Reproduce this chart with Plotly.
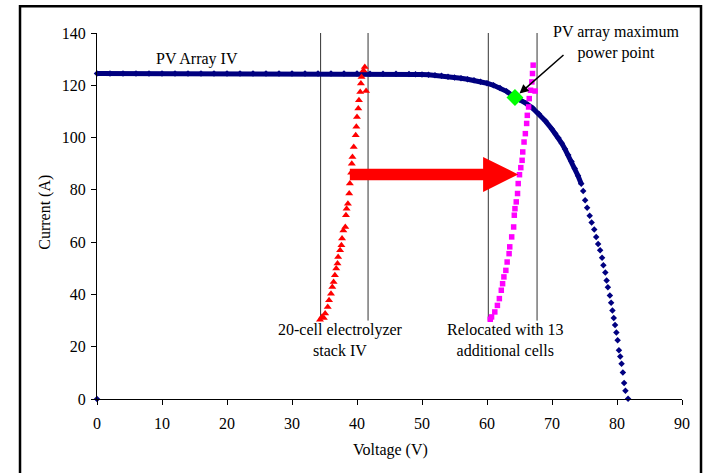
import plotly.graph_objects as go

# PV array IV sweep: voltage (V) and current (A)
pv_voltage = [0.0,
              0.0, 2.0, 4.0, 6.0, 8.0, 10.0, 12.0, 14.0, 16.0, 18.0, 20.0, 22.0,
              24.0, 26.0, 28.0, 30.0, 32.0, 34.0, 36.0, 38.0, 40.0, 42.0, 44.0,
              46.0, 48.0, 49.0, 50.0, 51.0, 52.0, 53.0, 54.0, 55.0, 56.0, 57.0,
              58.0, 59.0, 60.0, 61.0, 62.0, 63.0, 64.0, 65.0, 66.0, 67.0, 68.0,
              69.0, 70.0, 70.5, 71.0, 71.5, 72.0, 72.5, 73.0, 73.5, 74.0, 74.5,
              74.8, 75.1, 75.4, 75.8, 76.1, 76.5, 76.8, 77.1, 77.4, 77.7, 77.9,
              78.2, 78.4, 78.6, 78.9, 79.1, 79.3, 79.5, 79.7, 79.9, 80.1, 80.3,
              80.5, 80.7, 80.9, 81.1, 81.3, 81.7]
pv_current = [0.0,
              124.5, 124.5, 124.5, 124.5, 124.5, 124.5, 124.5, 124.5, 124.5,
              124.5, 124.5, 124.5, 124.5, 124.5, 124.5, 124.5, 124.5, 124.5,
              124.5, 124.5, 124.5, 124.4, 124.4, 124.4, 124.3, 124.2, 124.1,
              124.0, 123.8, 123.6, 123.3, 123.0, 122.7, 122.3, 121.9, 121.4,
              120.8, 120.0, 119.0, 117.7, 115.9, 114.6, 113.1, 111.3, 109.0,
              106.3, 103.2, 101.6, 99.8, 97.8, 95.6, 93.3, 90.8, 88.2, 85.4,
              82.3, 79.6, 76.0, 73.2, 70.1, 67.5, 64.8, 62.0, 59.3, 56.9, 54.0,
              51.2, 48.4, 45.3, 42.7, 39.6, 36.8, 33.9, 31.0, 28.3, 25.4, 22.5,
              18.6, 16.3, 13.5, 10.1, 6.1, 3.2, 0.1]

# 20-cell electrolyzer stack IV
stack20_voltage = [34.3, 34.6, 34.9, 35.1, 35.5, 35.7, 36.0, 36.2, 36.4, 36.6,
                   36.8, 37.0, 37.1, 37.4, 37.6, 37.7, 37.9, 38.2, 38.3, 38.4,
                   38.6, 38.8, 38.9, 39.1, 39.2, 39.3, 39.5, 39.8, 39.9, 40.0,
                   40.2, 40.3, 40.5, 41.4, 40.6, 40.7, 41.0, 41.2]
stack20_current = [30.3, 31.4, 31.0, 32.7, 35.2, 37.8, 40.3, 42.8, 44.8, 47.3,
                   49.9, 51.8, 54.3, 56.9, 58.8, 61.4, 64.5, 65.8, 70.3, 72.8,
                   74.7, 78.6, 82.4, 86.5, 90.0, 92.6, 96.4, 100.9, 104.1, 107.9,
                   111.1, 114.3, 117.4, 117.8, 120.7, 123.2, 125.7, 127.0]

# Same stack relocated with 13 additional cells
stack33_voltage = [60.5, 60.7, 61.2, 61.6, 61.9, 62.2, 62.4, 62.6, 62.9, 63.1,
                   63.4, 63.5, 63.8, 64.1, 64.2, 64.3, 64.5, 64.7, 64.8, 65.0,
                   65.2, 65.4, 65.5, 65.7, 65.9, 66.1, 66.2, 66.4, 66.5, 66.7,
                   67.4, 66.9, 67.0, 67.1]
stack33_current = [30.5, 31.4, 33.3, 35.8, 38.4, 41.6, 44.1, 46.7, 49.2, 52.4,
                   55.6, 58.2, 62.0, 65.8, 70.3, 72.8, 75.4, 78.6, 82.4, 85.8,
                   88.5, 91.3, 94.5, 98.3, 101.5, 105.4, 108.5, 111.7, 114.9, 118.1,
                   117.8, 121.3, 124.5, 127.7]

# PV array maximum power point
mpp_voltage = [64.3]
mpp_current = [115.3]

# Voltage bounds of each stack's operating window
window_voltage = [34.4, 41.7, 60.2, 67.7]
window_current = [30, 140]

x_ticks = [0, 10, 20, 30, 40, 50, 60, 70, 80, 90]
y_ticks = [0, 20, 40, 60, 80, 100, 120, 140]

NAVY = "#000080"
FONT = dict(family="Liberation Serif", size=16, color="black")

fig = go.Figure()

# window boundary lines
wx, wy = [], []
for v in window_voltage:
    wx += [v, v, None]
    wy += [window_current[0], window_current[1], None]
fig.add_trace(go.Scatter(x=wx, y=wy, mode="lines",
                         line=dict(color="#333333", width=1),
                         hoverinfo="skip", showlegend=False))

# dense part of the PV sweep reads as a solid band
dense = [(v, i) for v, i in zip(pv_voltage, pv_current) if i >= 80]
fig.add_trace(go.Scatter(x=[d[0] for d in dense], y=[d[1] for d in dense],
                         mode="lines", line=dict(color=NAVY, width=5),
                         hoverinfo="skip", showlegend=False))
fig.add_trace(go.Scatter(x=pv_voltage, y=pv_current, mode="markers",
                         marker=dict(symbol="diamond", size=5, color=NAVY),
                         cliponaxis=False, name="PV Array IV", showlegend=False))

fig.add_trace(go.Scatter(x=stack20_voltage, y=stack20_current, mode="markers",
                         marker=dict(symbol="triangle-up", size=7, color="#FF0000"),
                         name="20-cell stack", showlegend=False))
fig.add_trace(go.Scatter(x=stack33_voltage, y=stack33_current, mode="markers",
                         marker=dict(symbol="square", size=5.5, color="#FF00FF"),
                         name="33-cell stack", showlegend=False))
fig.add_trace(go.Scatter(x=mpp_voltage, y=mpp_current, mode="markers",
                         marker=dict(symbol="diamond", size=13, color="#00FF00"),
                         name="MPP", showlegend=False))

# big red shift arrow
fig.add_shape(type="path", xref="x", yref="y", layer="above",
              path="M 38.9,83.7 L 59.4,83.7 L 59.4,79.2 L 64.8,85.9 "
                   "L 59.4,92.6 L 59.4,88.1 L 38.9,88.1 Z",
              fillcolor="#FF0000", line=dict(width=0))

# outer frame
fig.add_shape(type="rect", xref="paper", yref="paper",
              x0=-0.1316, x1=1.0325, y0=-0.4, y1=1.073,
              line=dict(color="black", width=2.5), fillcolor="rgba(0,0,0,0)")

annotations = [
    dict(x=15.4, y=130.2, text="PV Array IV"),
    dict(x=37.5, y=22.5, text="20-cell electrolyzer<br>stack IV"),
    dict(x=62.7, y=22.5, text="Relocated with 13<br>additional cells"),
    dict(x=79.8, y=136.4, text="PV array maximum<br>power point"),
]
for a in annotations:
    fig.add_annotation(x=a["x"], y=a["y"], xref="x", yref="y", text=a["text"],
                       xanchor="center", yanchor="middle",
                       showarrow=False, font=FONT, align="center")

fig.add_annotation(x=mpp_voltage[0], y=mpp_current[0], xref="x", yref="y",
                   ax=72.0, ay=132.1, axref="x", ayref="y", text="",
                   showarrow=True, arrowhead=2, arrowsize=1.2, arrowwidth=1.5,
                   arrowcolor="black", standoff=6)

# axis titles
fig.add_annotation(x=-0.0889, y=0.5115, xref="paper", yref="paper",
                   xanchor="center", yanchor="middle",
                   text="Current (A)", textangle=-90, showarrow=False, font=FONT)
fig.add_annotation(x=0.5009, y=-0.140, xref="paper", yref="paper",
                   xanchor="center", yanchor="middle",
                   text="Voltage (V)", showarrow=False, font=FONT)

axis_common = dict(showgrid=False, zeroline=False, showline=True,
                   linecolor="black", linewidth=1, ticks="outside", ticklen=5,
                   tickwidth=1, tickcolor="black", tickfont=FONT)
fig.update_xaxes(range=[0, 90], tickvals=x_ticks, ticklabelstandoff=5,
                 **axis_common)
fig.update_yaxes(range=[0, 140], tickvals=y_ticks, ticklabelstandoff=2,
                 **axis_common)

fig.update_layout(width=704, height=473,
                  margin=dict(l=97, r=22, t=33, b=74),
                  paper_bgcolor="white", plot_bgcolor="white",
                  showlegend=False)

fig.write_html("out.html")
